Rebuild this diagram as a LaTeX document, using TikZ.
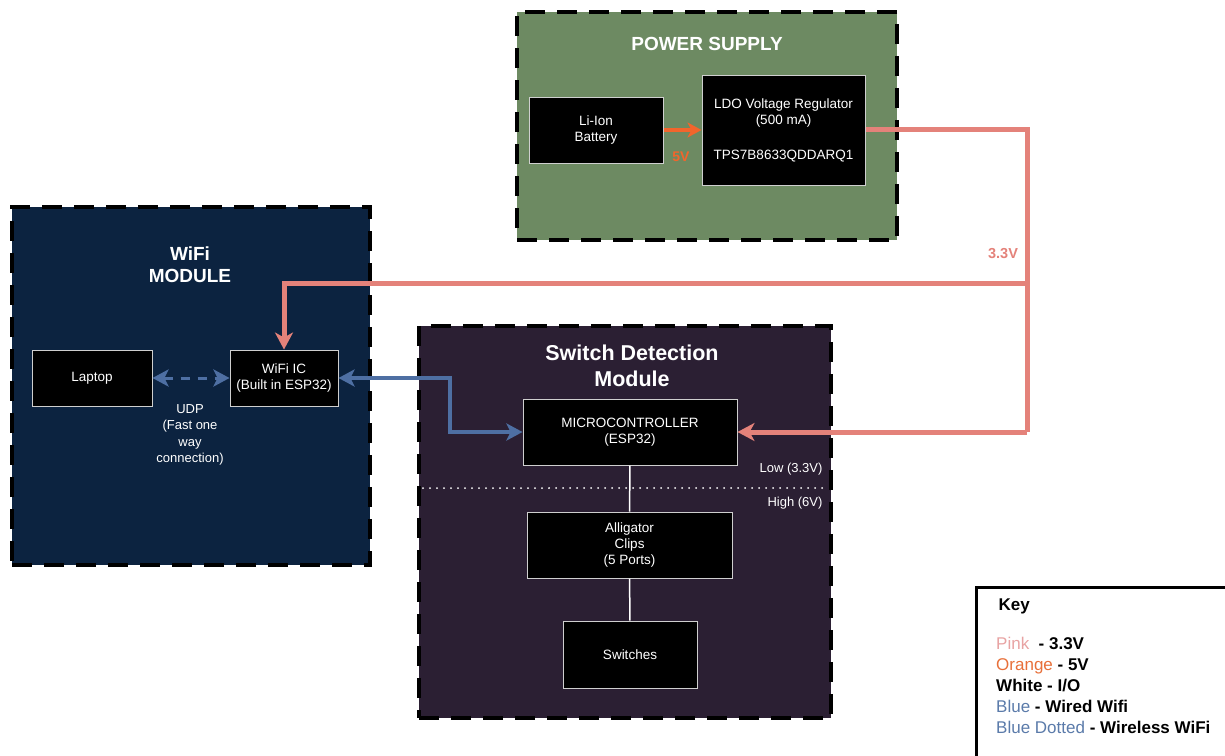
\documentclass[tikz,border=0pt]{standalone}
\usepackage{fontspec}
\setmainfont{Liberation Sans}
\usepackage{tikz}
\usetikzlibrary{arrows.meta}
\usepackage{xcolor}
\definecolor{psugreen}{HTML}{6D8A62}
\definecolor{wifinavy}{HTML}{0C2340}
\definecolor{detpurple}{HTML}{2B1F33}
\definecolor{rail}{HTML}{E4827A}
\definecolor{batt}{HTML}{F2652C}
\definecolor{wire}{HTML}{4E6FA3}
\definecolor{edge}{HTML}{CFCFCF}
\definecolor{keypink}{HTML}{E8A3A3}
\definecolor{keyorange}{HTML}{E8703A}
\definecolor{keyblue}{HTML}{5B7BAA}

\begin{document}
\begin{tikzpicture}[x=1pt,y=-1pt,
	group/.style={draw=black,line width=4pt,dash pattern=on 20pt off 12pt,inner sep=0pt},
	title/.style={text=white,align=center,font=\bfseries\fontsize{19}{22}\selectfont},
	block/.style={draw=edge,line width=1pt,fill=black,text=white,align=center,inner sep=0pt,
		font=\fontsize{13.5}{16}\selectfont},
	railline/.style={draw=rail,line width=5pt},
	railarrow/.style={railline,-{Stealth[length=17pt,width=18pt,inset=5pt]}},
	wired/.style={draw=wire,line width=4.5pt,{Stealth[length=16pt,width=17pt,inset=4pt]}-{Stealth[length=16pt,width=17pt,inset=4pt]}},
	link/.style={draw=white,line width=1.5pt}]
		\useasboundingbox (0,0) rectangle (1225,755);
		%
		% module frames
		\node[group,fill=psugreen,minimum width=380pt,minimum height=228pt] (psu) at (707,126) {};
		\node[group,fill=wifinavy,minimum width=358pt,minimum height=358pt] (wifimod) at (191,386) {};
		\node[group,fill=detpurple,minimum width=412pt,minimum height=392pt] (swdet) at (625,522) {};
		%
		\node[title] (psutitle) at (707,44) {POWER SUPPLY};
		\node[title] (wifititle) at (190,265) {WiFi\\MODULE};
		\node[title,font=\bfseries\fontsize{21.5}{26}\selectfont] (dettitle) at (632,366) {Switch Detection\\Module};
		%
		% power supply
		\node[block,minimum width=134pt,minimum height=66pt] (bat) at (596,130) {Li-Ion\\Battery};
		\node[block,minimum width=163pt,minimum height=110pt] (ldo) at (783.5,130)
			{LDO Voltage Regulator\\(500 mA)\\[19pt]TPS7B8633QDDARQ1};
		\draw[draw=batt,line width=4pt,-{Stealth[length=14pt,width=15pt,inset=4pt]}] (bat) -- (bat -| ldo.west);
		\node[text=batt,font=\bfseries\fontsize{14}{16}\selectfont] (fivev) at (681,157) {5V};
		%
		% wifi module
		\node[block,minimum width=120pt,minimum height=56pt] (laptop) at (92,378) {Laptop};
		\node[block,minimum width=108pt,minimum height=56pt] (wific) at (284,378) {WiFi IC\\(Built in ESP32)};
		\draw[wired,line width=3pt,dash pattern=on 9pt off 8pt] (laptop) -- (wific);
		\node[text=white,align=center,font=\fontsize{13}{16.5}\selectfont] (udp) at (190,435)
			{UDP\\(Fast one\\way\\connection)};
		%
		% switch detection
		\node[block,minimum width=214pt,minimum height=66pt] (mcu) at (630,432) {MICROCONTROLLER\\(ESP32)};
		\node[block,minimum width=205pt,minimum height=66pt] (clips) at (629.5,545) {Alligator\\Clips\\(5 Ports)};
		\node[block,minimum width=134pt,minimum height=67pt] (sw) at (630,654.5) {Switches};
		\draw[link] (mcu) -- (clips);
		\draw[link] (clips) -- (sw);
		\coordinate (lvl1) at (423,488);
		\coordinate (lvl2) at (829,488);
		\draw[draw=white,line width=2pt,line cap=round,dash pattern=on 0pt off 7pt] (lvl1) -- (lvl2);
		\node[text=white,anchor=east,font=\fontsize{13}{15}\selectfont] (low) at (826,469) {Low (3.3V)};
		\node[text=white,anchor=east,font=\fontsize{13}{15}\selectfont] (high) at (826,503) {High (6V)};
		%
		% 3.3V rail
		\coordinate (r1) at (1027,129);
		\coordinate (r2) at (1027,432);
		\coordinate (r3) at (1027,283);
		\coordinate (r4) at (284,283);
		\draw[railline] (r1 -| ldo.east) -- (r1) -- (r2);
		\draw[railarrow] (r2) -- (mcu.east);
		\draw[railarrow] (r3) -- (r4) -- (wific.north);
		\node[text=rail,font=\bfseries\fontsize{14.5}{17}\selectfont] (railv) at (1003,254) {3.3V};
		%
		% wired link
		\coordinate (w1) at (450,378);
		\coordinate (w2) at (450,432);
		\draw[wired] (wific.east) -- (w1) -- (w2) -- (mcu.west);
		%
		% key
		\node[draw=black,line width=3pt,fill=white,anchor=north west,minimum width=270pt,minimum height=190pt] (key) at (975,586) {};
		\node[anchor=west,font=\bfseries\fontsize{17}{20}\selectfont] (keytitle) at (995,606) {Key};
		\node[anchor=north west,align=left,inner sep=0pt,font=\fontsize{17}{21}\selectfont] (keytext) at (996,637)
			{\textcolor{keypink}{Pink}\ \ \textbf{- 3.3V}\\
			 \textcolor{keyorange}{Orange} \textbf{- 5V}\\
			 \textbf{White - I/O}\\
			 \textcolor{keyblue}{Blue} \textbf{- Wired Wifi}\\
			 \textcolor{keyblue}{Blue Dotted} \textbf{- Wireless WiFi}};
	\end{tikzpicture}
\end{document}
